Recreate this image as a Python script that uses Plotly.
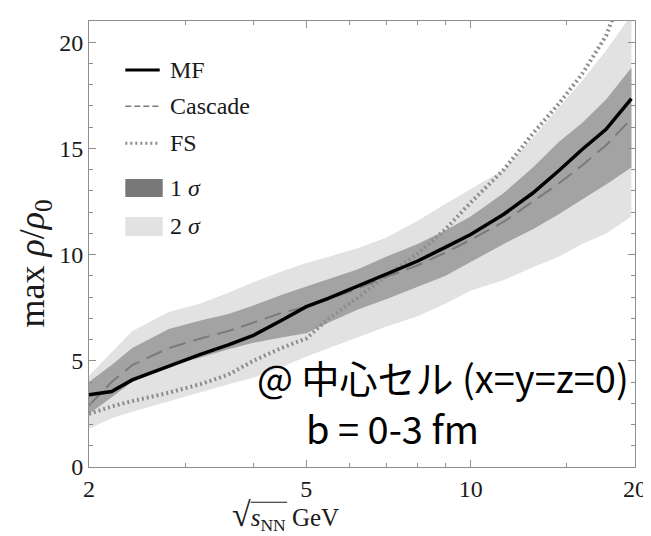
import plotly.graph_objects as go

# ---- data ----
sqrt_s = [2.0, 2.2, 2.4, 2.8, 3.2, 3.6, 4.0, 4.5, 5.0, 5.5, 6.2, 7.0, 8.0, 9.0, 10.0, 11.5, 13.0, 14.5, 16.0, 17.7, 19.7]
mf      = [3.4, 3.55, 4.1, 4.75, 5.3, 5.75, 6.2, 6.9, 7.55, 7.95, 8.5, 9.05, 9.7, 10.35, 10.95, 11.9, 12.9, 13.95, 14.95, 15.9, 17.35]
cascade = [2.9, 4.0, 4.8, 5.6, 6.05, 6.4, 6.8, 7.25, 7.55, 7.9, 8.4, 8.95, 9.5, 10.1, 10.7, 11.55, 12.5, 13.35, 14.2, 15.15, 16.4]
sig1_hi = [4.0, 4.8, 5.6, 6.5, 6.9, 7.2, 7.6, 8.1, 8.5, 8.85, 9.3, 9.9, 10.5, 11.15, 11.8, 12.9, 14.1, 15.3, 16.2, 17.3, 18.8]
sig1_lo = [2.5, 3.3, 4.0, 4.75, 5.15, 5.55, 5.85, 6.1, 6.3, 6.8, 7.4, 7.9, 8.5, 9.0, 9.65, 10.5, 11.2, 11.9, 12.6, 13.3, 14.1]
sig2_hi = [4.3, 5.4, 6.4, 7.3, 7.7, 8.2, 8.7, 9.2, 9.6, 9.9, 10.3, 10.8, 11.6, 12.4, 13.1, 14.0, 15.5, 16.9, 18.2, 19.6, 21.3]
sig2_lo = [1.8, 2.3, 2.6, 3.1, 3.5, 3.9, 4.2, 4.7, 5.2, 5.6, 6.1, 6.6, 7.1, 7.7, 8.3, 8.8, 9.4, 9.9, 10.5, 11.0, 11.8]
fs_x = [2.0, 2.2, 2.4, 2.8, 3.2, 3.6, 4.0, 4.5, 5.0, 5.5, 6.2, 7.0, 8.0, 9.0, 10.0, 11.5, 13.0, 14.5, 16.0, 17.7, 18.5]
fs_y = [2.5, 2.85, 3.1, 3.5, 3.9, 4.35, 5.0, 5.6, 6.05, 7.0, 7.95, 9.0, 10.05, 11.2, 12.45, 14.0, 15.7, 17.1, 18.5, 20.3, 21.6]

x_ticks = [2, 5, 10, 20]
x_minor = [3, 4, 6, 7, 8, 9, 15]
legend_labels = ["MF", "Cascade", "FS", "1 <i>σ</i>", "2 <i>σ</i>"]

LIGHT = "#e2e2e2"
DARK = "#a3a3a3"
SERIF = "Liberation Serif"
AX = "#8f8f8f"

fig = go.Figure()
# 2 sigma band
fig.add_trace(go.Scatter(x=sqrt_s, y=sig2_lo, mode="lines", line=dict(width=0), hoverinfo="skip", showlegend=False))
fig.add_trace(go.Scatter(x=sqrt_s, y=sig2_hi, mode="lines", line=dict(width=0), fill="tonexty", fillcolor=LIGHT, hoverinfo="skip", showlegend=False))
# 1 sigma band
fig.add_trace(go.Scatter(x=sqrt_s, y=sig1_lo, mode="lines", line=dict(width=0), hoverinfo="skip", showlegend=False))
fig.add_trace(go.Scatter(x=sqrt_s, y=sig1_hi, mode="lines", line=dict(width=0), fill="tonexty", fillcolor=DARK, hoverinfo="skip", showlegend=False))
# lines
fig.add_trace(go.Scatter(x=fs_x, y=fs_y, mode="lines", line=dict(color="#8c8c8c", width=4, dash="2px,3px"), showlegend=False))
fig.add_trace(go.Scatter(x=sqrt_s, y=cascade, mode="lines", line=dict(color="#7a7a7a", width=2, dash="17px,8px"), showlegend=False))
fig.add_trace(go.Scatter(x=sqrt_s, y=mf, mode="lines", line=dict(color="black", width=3.5), showlegend=False))

axis_common = dict(
    showline=True, linecolor=AX, linewidth=1, mirror="ticks",
    ticks="inside", ticklen=7, tickcolor=AX, showgrid=False, zeroline=False,
    tickfont=dict(family=SERIF, size=24, color="#1a1a1a"),
)
fig.update_xaxes(type="log", range=[0.30103, 1.30103], tickvals=x_ticks, ticktext=[str(v) for v in x_ticks],
                 minor=dict(tickvals=x_minor, ticks="inside", ticklen=4, tickcolor=AX), **axis_common)
fig.update_yaxes(range=[0, 21], tickvals=[0, 5, 10, 15, 20],
                 minor=dict(dtick=1, ticks="inside", ticklen=4, tickcolor=AX), **axis_common)

ann = []
# axis titles
ann.append(dict(xref="paper", yref="paper", x=0.36, y=-0.109, yanchor="middle", xanchor="center", showarrow=False,
                text="<span style='font-size:34px'>√</span><i>s</i><sub>NN</sub> GeV",
                font=dict(family=SERIF, size=25, color="#1a1a1a")))
ann.append(dict(xref="paper", yref="paper", x=-0.1, y=0.457, xanchor="center", yanchor="middle", showarrow=False,
                textangle=-90, text="max <i>ρ</i>/<i>ρ</i><sub>0</sub>",
                font=dict(family=SERIF, size=36, color="#1a1a1a")))
# text annotations
ann.append(dict(xref="paper", yref="paper", x=0.993, y=0.204, xanchor="right", yanchor="middle", showarrow=False,
                text="@ 中心セル (x=y=z=0)", font=dict(family="Noto Sans CJK JP", size=38, color="black")))
ann.append(dict(xref="paper", yref="paper", x=0.394, y=0.088, xanchor="left", yanchor="middle", showarrow=False,
                text="b = 0-3 fm", font=dict(family="Noto Sans CJK JP", size=38, color="black")))

# manual legend
leg_y = [0.890, 0.809, 0.726, 0.6256, 0.540]
for lab, yy in zip(legend_labels, leg_y):
    ann.append(dict(xref="paper", yref="paper", x=0.144, y=yy, xanchor="left", yanchor="middle", showarrow=False,
                    text=lab, font=dict(family=SERIF, size=24, color="#1a1a1a")))
shapes = [
    dict(type="line", xref="paper", yref="paper", x0=0.0665, x1=0.1295, y0=leg_y[0], y1=leg_y[0], line=dict(color="black", width=3)),
    dict(type="line", xref="paper", yref="paper", x0=0.0665, x1=0.1295, y0=leg_y[1], y1=leg_y[1], line=dict(color="#7a7a7a", width=1.5, dash="6px,3px")),
    dict(type="line", xref="paper", yref="paper", x0=0.0665, x1=0.1295, y0=leg_y[2], y1=leg_y[2], line=dict(color="#8c8c8c", width=3, dash="2px,3px")),
    dict(type="rect", xref="paper", yref="paper", x0=0.0665, x1=0.135, y0=0.6054, y1=0.6457, fillcolor="#787878", line=dict(width=0)),
    dict(type="rect", xref="paper", yref="paper", x0=0.0665, x1=0.135, y0=0.518, y1=0.5605, fillcolor=LIGHT, line=dict(width=0)),
    # overline of the square root in the x title
    dict(type="line", xref="paper", yref="paper", x0=0.296, x1=0.363, y0=-0.079, y1=-0.079, line=dict(color="#1a1a1a", width=1.2)),
]

fig.update_layout(
    width=651, height=536, margin=dict(l=81, r=14, t=13, b=77),
    paper_bgcolor="white", plot_bgcolor="white", showlegend=False,
    annotations=ann, shapes=shapes,
)
fig.write_html("out.html")
